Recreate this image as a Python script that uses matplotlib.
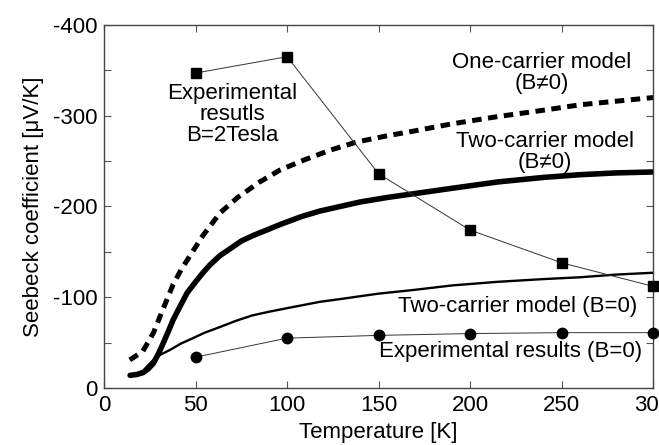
import matplotlib
matplotlib.use("Agg")
import matplotlib.pyplot as plt
from matplotlib.ticker import MultipleLocator

plt.rcParams['font.family'] = ['Liberation Sans', 'DejaVu Sans']
plt.rcParams['axes.unicode_minus'] = False

# Experimental data
T_exp = [50, 100, 150, 200, 250, 300]
S_exp_2T = [-347, -365, -236, -174, -138, -112]
S_exp_0 = [-34, -55, -58, -60, -61, -61]

# One-carrier model (B != 0)  (dashed)
T_one = [14, 21, 27, 32, 37.7, 42, 47, 54, 63.4, 73, 85, 96, 109, 123.5, 138, 155,
         169, 190, 215, 240, 260, 280, 300]
S_one = [-31, -40, -61, -86, -114, -130, -146, -168, -193, -210, -227, -240, -251, -262,
         -271, -278, -283, -291, -299, -306, -312, -316, -320]

# Two-carrier model (B != 0) (thick)
T_two = [14.2, 18, 21.3, 24, 26.8, 29.5, 32.2, 35, 37.7, 41.5, 45.4, 50, 54, 58, 63.4,
         70, 75, 81.4, 90, 96, 108, 118, 129, 140, 155, 169, 190, 215, 240, 260, 280, 300]
S_two = [-14, -15, -17, -21, -27, -37, -49, -62, -75, -90, -105, -117, -127, -136, -146,
         -155, -162, -168, -175, -180, -189, -195, -200, -205, -210, -214, -220, -227,
         -232, -235, -237, -238]

# Two-carrier model (B = 0) (thin)
T_two0 = [14.2, 18, 21.3, 24, 27, 31, 36, 42, 48.6, 55, 63, 72, 81, 90, 100, 118, 129,
          150, 169, 190, 215, 240, 260, 280, 300]
S_two0 = [-14, -16, -19, -25, -31, -37, -42, -49, -55, -61, -67, -74, -80, -84, -88, -95,
          -98, -104, -108, -113, -117, -120, -122, -125, -127]

fig = plt.figure(figsize=(6.59, 4.45), dpi=100)
ax = fig.add_axes([0.158, 0.128, 0.833, 0.816])

ax.plot(T_one, S_one, color='black', lw=3.6, linestyle=(0, (1.9, 1.3)),
        dash_capstyle='butt', solid_joinstyle='round')
ax.plot(T_two, S_two, color='black', lw=4.0, solid_capstyle='round', solid_joinstyle='round')
ax.plot(T_two0, S_two0, color='black', lw=1.7, solid_joinstyle='round')
ax.plot(T_exp, S_exp_2T, color='#333333', lw=0.7, marker='s', markersize=7,
        markerfacecolor='black', markeredgecolor='black', clip_on=False, zorder=5)
ax.plot(T_exp, S_exp_0, color='#333333', lw=0.7, marker='o', markersize=7.5,
        markerfacecolor='black', markeredgecolor='black', clip_on=False, zorder=5)

fs = 16
ax.text(70, -301, "Experimental\nresutls\nB=2Tesla", ha='center', va='center', fontsize=fs, linespacing=1.0)
ax.text(239, -347, "One-carrier model\n(B\u22600)", ha='center', va='center', fontsize=fs, linespacing=1.0)
ax.text(241, -260, "Two-carrier model\n(B\u22600)", ha='center', va='center', fontsize=fs, linespacing=1.0)
ax.text(226, -90, "Two-carrier model (B=0)", ha='center', va='center', fontsize=fs)
ax.text(222, -40, "Experimental results (B=0)", ha='center', va='center', fontsize=fs)

ax.set_xlim(0, 300)
ax.set_ylim(0, -400)
ax.xaxis.set_major_locator(MultipleLocator(50))
ax.yaxis.set_major_locator(MultipleLocator(100))
ax.yaxis.set_minor_locator(MultipleLocator(50))
ax.tick_params(which='both', direction='in', top=True, right=True, length=5, width=0.8,
               labelsize=fs, pad=5, color='#555555')
for s in ax.spines.values():
    s.set_linewidth(1.0)
    s.set_color('#444444')

ax.set_xlabel("Temperature [K]", fontsize=fs, labelpad=4)
ax.set_ylabel("Seebeck coefficient [\u03bcV/K]", fontsize=fs, labelpad=6)

fig.savefig("out.png", dpi=100)
